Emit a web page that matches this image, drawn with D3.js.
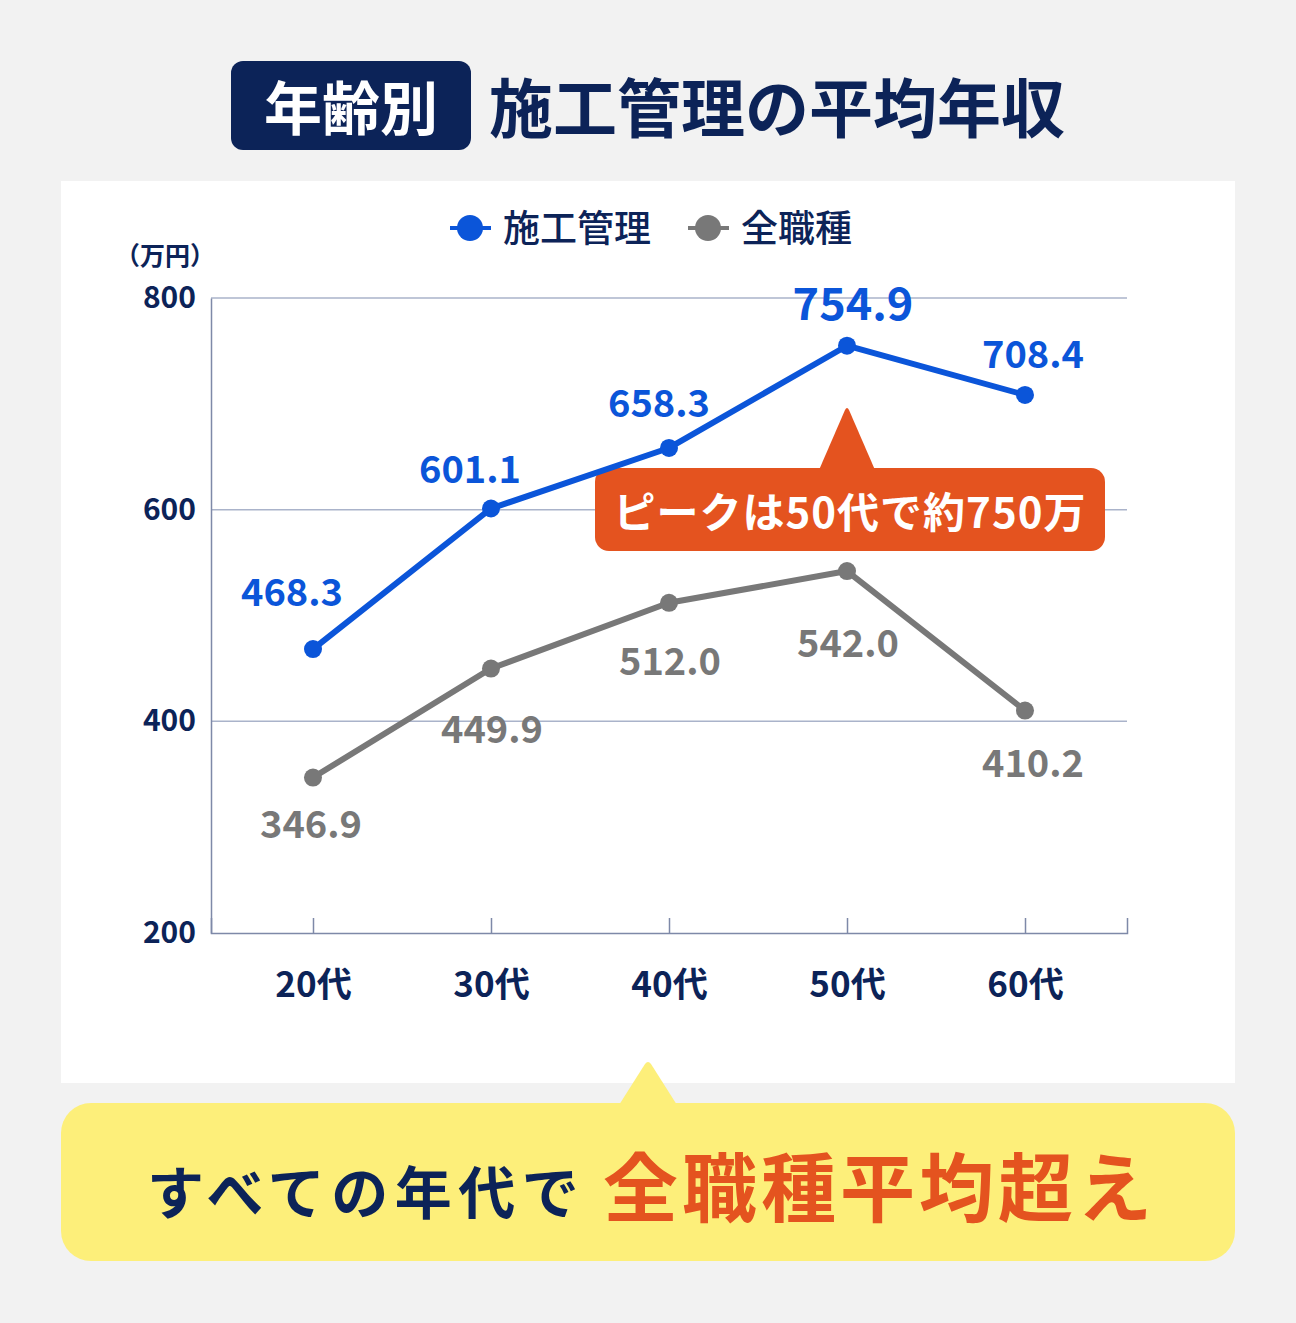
<!DOCTYPE html>
<html><head><meta charset="utf-8">
<script src="https://cdn.jsdelivr.net/npm/d3@7"></script>
<style>
html,body{margin:0;padding:0;background:#f2f2f2;}
svg{display:block;}
text{font-family:"Noto Sans CJK JP","Noto Sans",sans-serif;}
</style></head><body>
<svg id="c" width="1296" height="1323"></svg>
<script>
// ---- data ----
const categories = ["20代", "30代", "40代", "50代", "60代"];
const sekouValues = [468.3, 601.1, 658.3, 754.9, 708.4];
const allJobsValues = [346.9, 449.9, 512.0, 542.0, 410.2];
const yTickValues = [200, 400, 600, 800];
const gridValues = [400, 600, 800];
const seriesNames = ["施工管理", "全職種"];
const titleTag = "年齢別";
const titleText = "施工管理の平均年収";
const unitText = "（万円）";
const peakCallout = "ピークは50代で約750万";
const peakCategory = "50代";
const bottomText1 = "すべての年代で";
const bottomText2 = "全職種平均超え";

// ---- label layout (offsets from points) ----
const sekouLabelOffsets = [[-21, -60], [-21, -42], [-10, -47], [6, -45], [8, -43]];
const allLabelOffsets = [[-2, 44], [1, 58], [1, 56], [1, 69], [8, 50]];

const NAVY = "#0c2358", BLUE = "#0b55d9", GRAY = "#787878", ORANGE = "#e4531f", YELLOW = "#fdef7a";

const svg = d3.select("#c");
svg.append("rect").attr("width", 1296).attr("height", 1323).attr("fill", "#f2f2f2");

// title
svg.append("rect").attr("x", 231).attr("y", 61).attr("width", 240).attr("height", 89).attr("rx", 12).attr("fill", NAVY);
svg.append("text").attr("x", 351).attr("y", 105).attr("text-anchor", "middle").attr("dominant-baseline", "central")
  .attr("font-size", 58).attr("font-weight", 700).attr("fill", "#fff").text(titleTag);
svg.append("text").attr("x", 489).attr("y", 104).attr("dominant-baseline", "central")
  .attr("font-size", 64).attr("font-weight", 700).attr("fill", NAVY).text(titleText);

// white panel
svg.append("rect").attr("x", 61).attr("y", 181).attr("width", 1174).attr("height", 902).attr("fill", "#fff");

// bottom yellow callout
const xTipBottom = 648;
svg.append("rect").attr("x", 61).attr("y", 1103).attr("width", 1174).attr("height", 158).attr("rx", 30).attr("fill", YELLOW);
svg.append("path").attr("d", `M${xTipBottom - 29},1105 L${xTipBottom - 3},1064 Q${xTipBottom},1060 ${xTipBottom + 3},1064 L${xTipBottom + 29},1105 Z`).attr("fill", YELLOW);
const bt = svg.append("text").attr("y", 1189).attr("dominant-baseline", "central").attr("font-weight", 700);
bt.append("tspan").attr("x", 147).attr("font-size", 57).attr("letter-spacing", 6.5).attr("fill", NAVY).text(bottomText1);
bt.append("tspan").attr("x", 603).attr("dy", -6).attr("font-size", 75).attr("letter-spacing", 4).attr("fill", ORANGE).text(bottomText2);

// legend
const legend = [{name: seriesNames[0], color: BLUE, x: 450}, {name: seriesNames[1], color: GRAY, x: 688}];
legend.forEach(l => {
  svg.append("line").attr("x1", l.x).attr("x2", l.x + 41).attr("y1", 228).attr("y2", 228).attr("stroke", l.color).attr("stroke-width", 4);
  svg.append("circle").attr("cx", l.x + 20).attr("cy", 228).attr("r", 13).attr("fill", l.color);
  svg.append("text").attr("x", l.x + 53).attr("y", 226).attr("dominant-baseline", "central")
    .attr("font-size", 37).attr("font-weight", 500).attr("fill", NAVY).text(l.name);
});

// unit
svg.append("text").attr("x", 165).attr("y", 254).attr("text-anchor", "middle").attr("dominant-baseline", "central")
  .attr("font-size", 25).attr("font-weight", 700).attr("fill", NAVY).text(unitText);

// scales
const x = d3.scalePoint().domain(categories).range([211, 1127]).padding(0.573);
const y = d3.scaleLinear().domain([200, 800]).range([933, 298]);

// gridlines
svg.append("g").selectAll("line").data(gridValues).join("line")
  .attr("x1", 211).attr("x2", 1127).attr("y1", d => y(d)).attr("y2", d => y(d))
  .attr("stroke", "#aab3ca").attr("stroke-width", 1.5);

// y axis
const gy = svg.append("g").attr("transform", "translate(211,0)")
  .call(d3.axisLeft(y).tickValues(yTickValues).tickSize(0).tickPadding(15));
gy.select(".domain").attr("stroke", "#7e89a8").attr("stroke-width", 1.5);
gy.selectAll("text").attr("font-size", 30).attr("font-weight", 700).attr("fill", NAVY)
  .style("font-family", '"Noto Sans CJK JP", sans-serif');

// x axis
const gx = svg.append("g").attr("transform", "translate(0,933)")
  .call(d3.axisBottom(x).tickSize(-15).tickSizeOuter(-15).tickPadding(0));
gx.select(".domain").attr("stroke", "#7e89a8").attr("stroke-width", 1.5).attr("fill", "none");
gx.selectAll(".tick line").attr("stroke", "#7e89a8").attr("stroke-width", 1.5);
gx.selectAll("text").attr("y", 52).attr("dy", "0.35em").attr("font-size", 35).attr("font-weight", 700).attr("fill", NAVY)
  .style("font-family", '"Noto Sans CJK JP", sans-serif');

// callout (peak)
const px = x(peakCategory);
const callout = svg.append("g");
callout.append("rect").attr("x", 595).attr("y", 468).attr("width", 510).attr("height", 83).attr("rx", 14).attr("fill", ORANGE);
callout.append("path").attr("d", `M${px - 28},470 L${px - 2},410 Q${px},406 ${px + 2},410 L${px + 28},470 Z`).attr("fill", ORANGE);
callout.append("text").attr("x", 850).attr("y", 509).attr("text-anchor", "middle").attr("dominant-baseline", "central")
  .attr("font-size", 42).attr("letter-spacing", 1).attr("font-weight", 700).attr("fill", "#fff").text(peakCallout);

// lines
const line = d3.line().x(d => x(d.c)).y(d => y(d.v));
const series = [
  {vals: sekouValues, color: BLUE, offs: sekouLabelOffsets},
  {vals: allJobsValues, color: GRAY, offs: allLabelOffsets}
];
series.slice().reverse().forEach(s => {
  const pts = categories.map((c, i) => ({c, v: s.vals[i], i}));
  svg.append("path").datum(pts).attr("d", line).attr("fill", "none").attr("stroke", s.color)
    .attr("stroke-width", 6).attr("stroke-linejoin", "round");
  svg.append("g").selectAll("circle").data(pts).join("circle")
    .attr("cx", d => x(d.c)).attr("cy", d => y(d.v)).attr("r", 9).attr("fill", s.color);
  svg.append("g").selectAll("text").data(pts).join("text")
    .attr("x", d => x(d.c) + s.offs[d.i][0]).attr("y", d => y(d.v) + s.offs[d.i][1])
    .attr("text-anchor", "middle").attr("dominant-baseline", "central")
    .attr("font-size", d => (s.color === BLUE && d.v === d3.max(s.vals)) ? 45 : 38)
    .attr("font-weight", d => s.color === BLUE ? 700 : 600)
    .attr("fill", s.color).text(d => d.v.toFixed(1));
});
</script>
</body></html>
